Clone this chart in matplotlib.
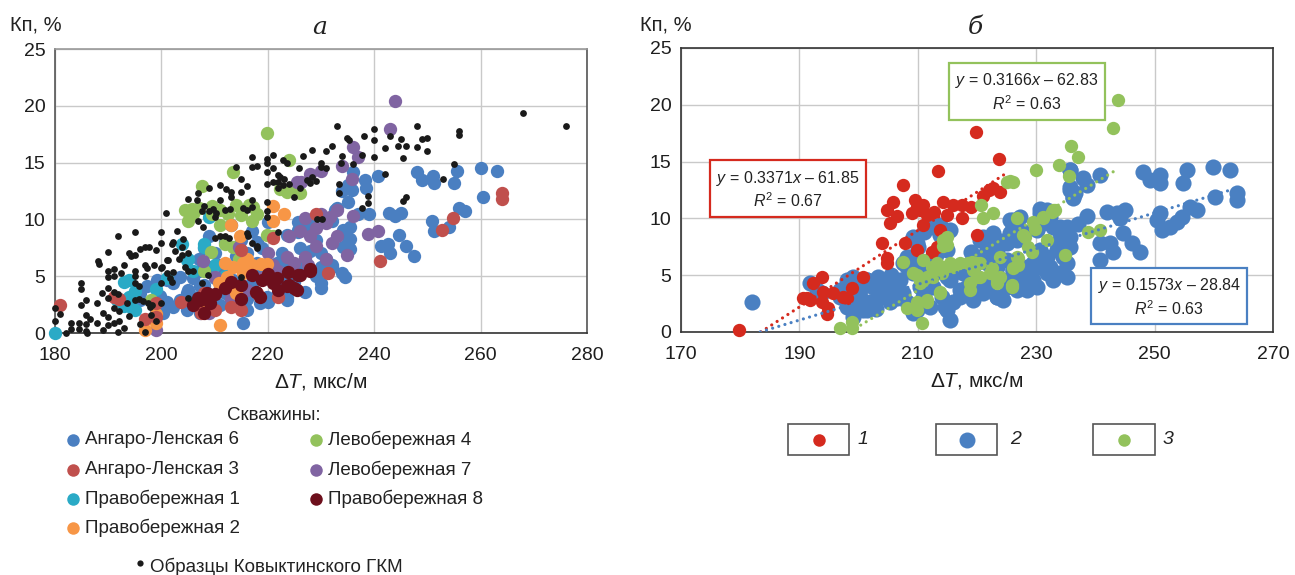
import matplotlib
matplotlib.use("Agg")
import matplotlib.pyplot as plt
from matplotlib.lines import Line2D
from matplotlib.patches import Rectangle
import numpy as np

plt.rcParams['font.family'] = ['Liberation Sans', 'DejaVu Sans']
plt.rcParams['mathtext.fontset'] = 'custom'
plt.rcParams['mathtext.rm'] = 'Liberation Sans'
plt.rcParams['mathtext.it'] = 'Liberation Sans:italic'

# ---------------- data: panel a ----------------
samples_gkm = [(180,2.2),(180,1.1),(181,1.7),(183,0.9),(183,0.35),(184.5,0.9),(184.5,0.35),(184.8,4.4),(184.8,3.9),(184.8,2.5),
    (185.8,1.6),(185.8,0.8),(185.8,0.2),(185.9,2.9),(187.9,0.9),(187.9,2.6),(188,6.3),(188.3,6.1),(188.8,3.5),(189.9,7.1),
    (190,5.5),(190,4.9),(190,4.0),(190,3.1),(190,1.4),(190,0.7),(191,5.6),(191,5.0),(191,3.6),(191,2.2),(191,0.9),(191.8,8.5),
    (191.8,0.1),(191.8,3.4),(192,1.9),(192,1.1),(194,7.0),(194.3,6.8),(195,6.9),(195,5.5),(195,5.0),(195,4.4),(195,8.9),
    (193.5,2.6),(195,2.9),(195.8,3.0),(196.5,2.8),(197.4,2.6),(198.3,2.5),(195.8,4.1),(197,6.0),(197.3,5.7),(197,5.0),
    (197,7.6),(197.7,7.6),(198.7,6.0),(197,0.1),(200,8.9),(200,7.9),(200,5.7),(200.8,10.6),(201,6.4),(201.3,6.4),(202,7.8),
    (202.2,8.0),(202.6,7.2),(203.3,6.5),(202.2,5.4),(202,4.5),(200,4.4),(201,5.3),(200.1,5.8),(201.6,4.8),(204.4,5.8),
    (205,5.5),(205.9,5.5),(203.8,7.6),(203.8,6.9),(205,7.0),(200,2.6),(199,1.1),(197.8,2.3),(205,3.1),(207.6,4.4),(208.7,5.1),
    (206.9,12.3),(206.7,11.7),(205,11.8),(207.6,10.7),(208.9,10.7),(209.7,10.9),(210.2,10.6),(210,10.2),(206.9,9.9),(207.8,9.3),
    (212.1,12.7),(213,12.4),(211,11.7),(212.9,10.9),(211.9,10.8),(211.9,8.5),(211,8.5),(210,8.4),(212.8,8.4),(214,14.6),
    (214.9,13.6),(216,12.9),(217,11.7),(215.3,11.0),(216,10.8),(217,11.1),(216,8.8),(216.2,8.5),(217,7.9),(217.9,7.7),
    (217.9,7.5),(217,15.5),(217,14.6),(219.8,15.3),(219.8,15.0),(219.8,14.2),(219.8,13.1),(219.8,11.5),(219.8,10.7),
    (219.8,10.2),(221,15.7),(221,14.5),(221.9,13.9),(223,13.6),(221.9,13.3),(222.8,13.0),(221.9,12.8),(221,13.3),(222.8,15.2),
    (223.6,15.0),(221.9,8.9),(224.9,12.0),(225.8,14.5),(226.6,15.6),(228.4,16.1),(231,16.0),(232,16.5),(228.3,13.7),
    (227.9,13.2),(227.3,13.5),(233.7,15.0),(236,14.9),(237.8,15.7),(233,18.2),(234.8,17.2),(235.2,17.0),(230,15.0),(230,14.6),
    (233.3,13.1),(233.3,12.3),(238.8,12.1),(238.8,11.4),(237.8,11.0),(229.2,10.0),(230.1,10.0),(240,18.0),(240,17.0),
    (240,15.5),(242,16.3),(243,17.3),(245,17.1),(244.4,16.5),(246,16.5),(245.5,15.4),(248,18.2),(248,16.4),(249,17.1),
    (250,17.2),(255.9,17.8),(255.9,17.4),(255,14.9),(246,12.0),(245.5,11.6),(267.9,19.4),(276,18.2),(214.9,4.9),(222.3,13.7),
    (186.5,1.2),(189,1.8),(193,0.4),(194,1.5),(196,0.8),(198,1.6),(182,0.0),(186,0.0),(189,0.3),(192.5,5.3),(193,6.0),
    (196,7.4),(199,7.3),(203,9.0),(204,8.3),(208,11.2),(209,12.8),(211,13.0),(213,12.0),(215,12.4),(218,14.7),(224,13.1),
    (226,12.8),(229,13.4),(231,14.5),(234,15.6),(238,17.3),(242,14.0),(250,16.0),(253,13.6)]

ang_len_6 = [(196,2.9),(196,3.5),(197.3,4.1),(198.8,4.1),(199.2,4.7),(199.7,3.3),(199,2.0),(200.3,1.8),(201,2.7),(202.2,2.3),
    (203.5,2.9),(204.8,3.5),(201,4.7),(202.2,4.4),(203.5,4.9),(204.8,2.0),(205,3.8),(206,4.8),(206,3.2),(207.2,4.1),
    (207.2,1.8),(208.5,2.9),(207,5.5),(207,6.5),(208,4.2),(208,7.5),(209,5.8),(209,8.5),(210,4.8),(210,7.0),(211,2.5),
    (211,4.0),(211,6.0),(212,3.5),(212,5.5),(212,8.0),(213.4,4.7),(213,2.8),(213,9.5),(214.7,3.5),(214,6.8),(215.3,0.9),
    (215,4.0),(215,5.8),(215,8.2),(216,3.0),(216,7.0),(216,2.0),(217.2,3.8),(217,4.5),(217,9.0),(217,5.2),(218.5,2.6),
    (218,6.2),(218,8.0),(219.8,3.2),(219,4.8),(219,5.3),(219,7.5),(220,5.8),(220,2.7),(220,9.8),(221,4.5),(221.7,6.2),
    (222,3.5),(222.6,7.0),(223.6,8.6),(223,4.2),(223.6,2.9),(223.6,3.1),(222.8,4.2),(224,5.0),(224,6.0),(225,4.5),
    (225.6,9.8),(225.6,8.9),(225.6,9.1),(226,5.8),(226,7.5),(227,6.5),(227,3.6),(227.5,9.5),(228.5,9.5),(228,7.2),(229,8.2),
    (229,5.0),(230,5.8),(230,4.4),(230,4.0),(230,7.0),(231,6.5),(232,6.0),(232,5.8),(232.6,10.8),(232,9.9),(234.1,9.1),
    (235,8.4),(235.4,9.3),(234.1,7.6),(234.5,4.9),(233.9,5.3),(233,11.0),(234,12.5),(235,13.0),(235,11.5),(235.5,8.3),
    (235.5,7.4),(236,14.2),(235.8,12.6),(237,10.5),(238.2,13.5),(238.4,12.8),(239,10.5),(240.7,13.8),(241.2,7.7),(242.5,7.8),
    (242.7,10.6),(243,7.0),(244,10.3),(245,10.6),(244.6,8.6),(246,7.7),(247.4,6.8),(248,14.2),(249,13.5),(250.8,9.9),
    (251.2,9.0),(251,13.8),(251.2,13.2),(254,9.3),(255,13.2),(255.5,14.3),(256,11.0),(257,10.7),(260,14.5),(260.4,12.0),
    (263,14.3)]

ang_len_3 = [(181,2.5),(191,3.2),(192,3.0),(197,1.2),(199,2.6),(199,1.4),(203.7,2.7),(207.4,1.8),(208,3.5),(210,2.0),
    (213,2.3),(215,2.0),(215,7.3),(218,3.5),(221,8.4),(222,3.2),(229,10.5),(231.3,5.3),(241,6.3),(252.8,9.1),(254.8,10.1),
    (264,12.3),(264,11.8)]

prav_1 = [(180,0.0),(191.6,2.9),(192,3.0),(193,4.5),(194,4.7),(193,2.4),(194.5,2.2),(195,2.0),(194,3.2),(195,3.7),
    (199,3.9),(201,4.8),(203.8,7.8),(205,6.5),(204.8,6.4),(208,7.8),(209,10.2),(208,7.6),(206,5.5),(212,5.0),(210,6.0)]

prav_2 = [(197,0.3),(199,0.9),(199,1.7),(211,0.7),(210.8,4.4),(212,6.2),(212.3,4.9),(213.4,5.8),(214,3.5),(215.3,6.2),
    (215.3,5.3),(218.7,6.1),(219.8,6.1),(221,11.2),(221,9.9),(223,10.5),(214.7,8.5),(209,3.0),(208,2.0),(216,6.5),
    (213,9.5),(217,6.0)]

lev_4 = [(219.8,17.6),(224,15.2),(213.4,14.2),(207.6,12.9),(204.5,10.8),(205.7,10.9),(205,9.9),(209.5,11.2),(209.5,10.5),
    (209.9,10.8),(214,11.3),(215,10.4),(216.5,11.3),(217.3,11.1),(217,9.9),(211,9.5),(209.3,7.1),(219.8,8.6),(222.3,12.7),
    (223.6,12.4),(198,2.9),(213.4,7.6),(206,10.5),(207,11.0),(211,10.8),(212.5,10.5),(218,10.5),(221,8.5),(225,12.5),
    (226,12.3),(208,5.5),(212,7.8),(214.5,6.5)]

lev_7 = [(243.9,20.4),(243,18.0),(236,16.4),(237,15.5),(233.9,14.7),(230,14.3),(235.8,13.6),(225.4,13.3),(226.2,13.3),
    (238.8,8.7),(240.8,9.0),(232,7.9),(234.8,6.9),(233,10.8),(231.6,10.2),(231,9.7),(227,10.1),(228,8.5),(229,7.7),
    (227,6.7),(225,6.2),(223.7,6.7),(220,7.0),(214.5,7.6),(207.8,6.3),(199,0.3),(209,1.8),(210,4.9),(230,10.5),(229,9.2),
    (226,9.0),(224,8.5),(221,6.0),(219,4.8),(215,4.2),(216,3.8),(213,3.0),(222,5.5),(236,10.3),(233,8.5),(228,14.0),
    (231,6.5),(227.5,6.0)]

prav_8 = [(206.9,3.1),(208,3.1),(209.1,2.6),(208.5,3.5),(207.2,2.9),(217,5.1),(218.9,4.7),(221,4.4),(221.7,4.8),(223.8,5.4),
    (224,4.2),(225.4,3.8),(226,5.1),(227.9,5.5),(217.7,3.6),(218.5,3.2),(225.6,5.1),(227.9,5.6),(225,4.0),(223.6,4.1),
    (206,2.5),(208,1.8),(212,4.0),(213,4.5),(215,4.2),(215,3.0),(210,3.4),(220,5.2),(222,3.8)]

# ---------------- data: panel б ----------------
grp1 = [(179.8,0.2),(190.6,3.0),(191.8,2.8),(194.7,1.6),(193.8,4.8),(192.3,4.3),(194,3.5),(193.8,2.6),(194.8,2.1),
    (191.3,3.0),(195.7,3.4),(197.4,3.1),(198.9,3.9),(198,3.0),(200.7,4.8),(219.8,17.6),(223.7,15.2),(213.4,14.2),
    (207.5,12.9),(205.8,11.4),(204.8,10.7),(209.9,11.0),(210.4,10.7),(209,10.5),(210.9,11.2),(212.7,10.6),(214.3,11.4),
    (216,11.2),(217.5,11.2),(215,10.3),(217.5,10.0),(205.3,9.6),(210.9,9.4),(213.8,9.0),(204,7.8),(207.8,7.8),(209.9,7.2),
    (204.8,6.5),(204.8,6.1),(213.2,7.5),(212.4,7.0),(220,8.5),(222.7,12.7),(223.9,12.3),(209.5,11.6),(206.5,10.2),
    (211.5,10.3),(219,11.0),(221,12.0),(222,12.5)]

grp2 = [(182,2.6),(191.8,4.3),(193,3.7),(193.8,3.4),(196.9,3.7),(198,4.6),(199,4.8),(198.5,3.1),(199.7,2.8),(199,1.9),
    (200.2,3.7),(201.4,4.6),(202.4,4.0),(201.9,2.6),(203.3,4.8),(203.6,3.3),(204.8,3.7),(205.3,2.6),(205.8,4.0),(207,4.6),
    (207.5,3.4),(208.2,5.7),(208.7,6.6),(209.9,7.8),(209.2,5.2),(210.4,4.0),(211,3.1),(211.6,5.2),(212,6.3),(212.6,9.2),
    (213.8,8.5),(214.9,7.2),(215.4,4.6),(215.4,1.1),(216.6,5.7),(217.1,3.7),(217.6,5.2),(214.6,2.2),(214.1,3.1),(212.6,4.0),
    (212,2.2),(199,1.3),(201.4,1.9),(209.2,1.7),(209.2,8.1),(210,7.5),(212.6,9.3),(213.8,9.4),(215.4,9.0),(208.2,6.6),
    (207.5,6.1),(209.2,5.7),(212,6.1),(211.6,5.5),(214.9,4.8),(216,5.2),(217.1,5.7),(218.3,5.5),(221,8.4),(222.7,8.1),
    (221.7,7.2),(225.6,9.9),(227.3,10.1),(226.1,9.3),(230.6,10.8),(232.3,10.5),(231.1,9.9),(232.8,9.2),(234,8.7),
    (235.2,9.2),(235.7,8.4),(233.5,7.2),(234.5,6.6),(234.5,5.2),(235.7,14.3),(235.7,12.8),(236.2,11.9),(220.5,6.6),
    (221.7,6.1),(223.4,5.7),(225.1,6.3),(226.1,5.5),(227.3,4.8),(228.4,5.5),(229.5,6.1),(230.6,5.7),(231.8,5.2),(232.8,4.6),
    (229.5,4.3),(228.4,3.7),(226.1,4.3),(224.4,4.6),(223.4,3.1),(221.7,3.7),(220,4.3),(218.3,4.0),(217.1,3.1),(216,2.6),
    (214.9,1.9),(209.9,1.9),(210.9,3.1),(208.2,2.6),(203.6,3.1),(204.8,4.3),(201.4,4.6),(202.4,2.6),(200.7,1.9),(200.2,3.1),
    (196.9,3.1),(198,2.2),(263.9,12.2),(263.9,11.6),(260.2,11.9),(256,11.0),(257.2,10.7),(254.6,10.1),(253.8,9.7),
    (252.6,9.2),(251.2,9.0),(250.4,9.9),(250.9,10.5),(242,10.6),(243.6,10.5),(245,10.7),(244.2,10.0),(244.7,8.7),
    (246.2,7.8),(247.5,7.0),(240.8,7.8),(242.5,7.8),(243,7.0),(240.8,6.3),(234,9.2),(235.2,9.0),(234.4,8.4),(233.5,7.8),
    (234,7.2),(235.7,7.5),(235.2,6.1),(234,5.2),(235.2,4.8),(230.6,10.5),(231.8,10.7),(232.3,10.1),(231.1,9.6),(230.1,9.0),
    (226.1,9.9),(226.8,9.3),(225.6,8.7),(226.8,8.1),(225.1,7.8),(222.7,8.7),(222.2,7.8),(223.4,7.0),(220.5,8.1),
    (230.6,7.2),(230.1,6.3),(231.8,6.6),(231.1,5.7),(232.3,5.7),(228.4,5.7),(227.3,5.2),(226.1,5.5),(225.6,4.6),(226.8,3.7),
    (225.1,4.0),(223.4,3.1),(222.2,4.6),(220.5,4.0),(219.3,5.2),(218.3,5.7),(217.6,3.7),(219.3,2.8),(221,3.4),(224.4,2.8),
    (229.5,4.6),(230.1,4.0),(255.5,14.3),(259.9,14.5),(262.7,14.3),(250.9,13.8),(250.9,13.1),(248,14.1),(249.2,13.4),
    (254.8,13.1),(235.7,14.3),(237.9,13.6),(240.8,13.8),(238.6,12.9),(235.7,12.5),(236.2,11.8),(236.6,12.2),(209.2,8.4),
    (205.5,5.0),(206.5,3.0),(203,2.0),(211,8.8),(213,6.8),(219,7.0),(224,8.0),(228,8.8),(237,9.5),(238.5,10.2)]

grp3 = [(243.8,20.4),(243,18.0),(235.9,16.4),(237.1,15.4),(230,14.3),(233.9,14.7),(225,13.2),(226,13.2),(235.5,13.7),
    (225.6,13.3),(220.7,11.2),(221,10.0),(226.8,10.0),(229.5,9.7),(231.1,10.1),(232.8,10.7),(229.8,9.1),(231.8,8.1),
    (228.1,8.4),(228.6,7.5),(229.3,7.0),(234.9,6.8),(223.9,6.6),(226.8,6.6),(226.9,5.9),(214.9,8.4),(214.3,7.6),(207.5,6.2),
    (210.9,6.3),(212.4,5.7),(213.2,6.1),(214.3,5.7),(215.4,6.1),(214.1,5.2),(209.9,5.0),(210.4,4.3),(211.6,4.8),(213.8,3.5),
    (209.9,2.6),(211.6,2.6),(210.7,0.8),(219.2,6.2),(220.5,6.1),(220,4.8),(218.8,4.3),(222.2,5.2),(223.9,4.8),(223.4,4.3),
    (225.9,4.1),(196.9,0.35),(198.9,0.9),(198.9,0.35),(222.7,10.5),(227.8,8.5),(231.1,10.0),(232.7,10.6),(233.2,10.7),
    (238.8,8.8),(240.8,9.0),(222.5,5.6),(220.5,4.8),(219.3,5.5),(223.4,4.6),(226.1,5.6),(227,6.5),(225.9,4.0),(218.8,3.7),
    (220,6.1),(208.2,2.1),(209.9,1.9),(209.2,5.2),(211.6,2.8),(210.9,4.6),(212.6,4.8),(213.8,3.4),(214.3,8.1),(214.9,7.7),
    (216,5.7),(217.1,6.1),(218.5,6.1)]

# trend-line coefficients (as printed in the chart) and their x-ranges
trend1 = (0.3371, -61.85, 183.5, 224.5)
trend2 = (0.1573, -28.84, 183.4, 263.5)
trend3 = (0.3166, -62.83, 198.5, 243.0)

legend_left = ["Ангаро-Ленская 6", "Ангаро-Ленская 3", "Правобережная 1", "Правобережная 2",
               "Левобережная 4", "Левобережная 7", "Правобережная 8"]
c_blue, c_red3, c_teal, c_orange = '#4a7fc1', '#c0504d', '#2aaac6', '#f79646'
c_green, c_purple, c_dred = '#93c25c', '#8064a2', '#6d0f1c'
r_red, r_blue, r_green = '#d52a1e', '#4a80c2', '#93c25c'

W, H = 1295, 575
fig = plt.figure(figsize=(W/100, H/100), dpi=100)

def ax_rect(x0, y0, x1, y1):
    return [x0/W, 1 - y1/H, (x1-x0)/W, (y1-y0)/H]

def xy(pts):
    a = np.array(pts, dtype=float)
    return a[:, 0], a[:, 1]

def style_axes(ax, xlim, xticks, spine_colors):
    ax.set_xlim(*xlim)
    ax.set_ylim(0, 25)
    ax.set_xticks(xticks)
    ax.set_yticks([0, 5, 10, 15, 20, 25])
    ax.grid(True, color='#c9c9c9', lw=1.0, zorder=0)
    ax.set_axisbelow(True)
    ax.tick_params(length=0, labelsize=14, colors='#1e1e1e')
    ax.tick_params(axis='x', pad=10)
    ax.tick_params(axis='y', pad=7)
    for k, c in spine_colors.items():
        ax.spines[k].set_color(c)
        ax.spines[k].set_linewidth(1.2)
    ax.set_xlabel('Δ$T$, мкс/м', fontsize=15, labelpad=5, color='#1e1e1e')

# ---- panel a ----
axa = fig.add_axes(ax_rect(55, 49, 587, 333))
style_axes(axa, (180, 280), [180, 200, 220, 240, 260, 280],
           {'left': '#555555', 'bottom': '#333333', 'top': '#999999', 'right': '#555555'})
s_big = 92
for pts, c in [(ang_len_6, c_blue), (prav_1, c_teal), (lev_4, c_green), (lev_7, c_purple),
               (prav_2, c_orange), (ang_len_3, c_red3), (prav_8, c_dred)]:
    x, y = xy(pts)
    axa.scatter(x, y, s=s_big, color=c, linewidths=0, zorder=3, clip_on=False)
x, y = xy(samples_gkm)
axa.scatter(x, y, s=24, color='#1a1a1a', linewidths=0, zorder=5, clip_on=False)

# ---- panel б ----
axb = fig.add_axes(ax_rect(681, 48, 1273, 332))
style_axes(axb, (170, 270), [170, 190, 210, 230, 250, 270],
           {'left': '#333333', 'bottom': '#333333', 'top': '#333333', 'right': '#333333'})
x, y = xy(grp2)
axb.scatter(x, y, s=135, color=r_blue, linewidths=0, zorder=3, clip_on=False)
x, y = xy(grp1)
axb.scatter(x, y, s=92, color=r_red, linewidths=0, zorder=4, clip_on=False)
x, y = xy(grp3)
axb.scatter(x, y, s=92, color=r_green, linewidths=0, zorder=4, clip_on=False)
for (k, b, x0, x1), c in [(trend1, r_red), (trend2, r_blue), (trend3, r_green)]:
    xs = np.array([x0, x1])
    axb.plot(xs, k*xs + b, ls=(0, (0.01, 2.0)), lw=2.3, color=c, zorder=6,
             dash_capstyle='round', solid_capstyle='round')

def eq_box(ax, xc, yc, k, b, r2, ec):
    txt = f'$y$ = {k:.4f}$x$ – {abs(b):.2f}\n$R^2$ = {r2:.2f}'
    ax.text(xc, yc, txt, ha='center', va='center', fontsize=11.5, color='#222222',
            linespacing=1.25, zorder=8,
            bbox=dict(boxstyle='square,pad=0.4', fc='white', ec=ec, lw=1.6))

eq_box(axb, 188.0, 12.55, trend1[0], trend1[1], 0.67, r_red)
eq_box(axb, 228.4, 21.1, trend3[0], trend3[1], 0.63, r_green)
eq_box(axb, 252.5, 3.1, trend2[0], trend2[1], 0.63, r_blue)

# titles and axis names
fig.text(320/W, 1 - 28/H, 'а', fontsize=18, style='italic', family='DejaVu Serif',
         ha='center', va='center', color='#222222')
fig.text(975/W, 1 - 28/H, 'б', fontsize=18, style='italic', family='DejaVu Serif',
         ha='center', va='center', color='#222222')
fig.text(10/W, 1 - 25/H, 'Кп, %', fontsize=14.5, ha='left', va='center', color='#222222')
fig.text(640/W, 1 - 25/H, 'Кп, %', fontsize=14.5, ha='left', va='center', color='#222222')

# left legend
fig.text(274/W, 1 - 415/H, 'Скважины:', fontsize=13.5, ha='center', va='center', color='#222222')
leg_cols = [c_blue, c_red3, c_teal, c_orange, c_green, c_purple, c_dred]
pos = [(73, 85, 440), (73, 85, 470), (73, 85, 499), (73, 85, 528),
       (316, 328, 440), (316, 328, 470), (316, 328, 499)]
for lab, c, (mx, tx, yy) in zip(legend_left, leg_cols, pos):
    fig.add_artist(Line2D([mx/W], [1 - yy/H], marker='o', ms=9, mew=0, color=c,
                          transform=fig.transFigure))
    fig.text(tx/W, 1 - yy/H, lab, fontsize=13.5, ha='left', va='center', color='#222222')
fig.add_artist(Line2D([140/W], [1 - 563/H], marker='o', ms=4.5, mew=0, color='#1a1a1a',
                      transform=fig.transFigure))
fig.text(150/W, 1 - 567/H, 'Образцы Ковыктинского ГКМ', fontsize=13.5, ha='left', va='center',
         color='#222222')

# right legend
for (bx0, bx1, lx, lab), c, ms in zip([(788, 849, 857, '1'), (936, 997, 1010, '2'), (1093, 1155, 1163, '3')],
                                      [r_red, r_blue, r_green], [9, 11.5, 9]):
    fig.add_artist(Rectangle((bx0/W, 1 - 455/H), (bx1-bx0)/W, 31/H, transform=fig.transFigure,
                             fill=False, ec='#555555', lw=1.2))
    fig.add_artist(Line2D([(bx0+bx1)/2/W], [1 - 440/H], marker='o', ms=ms, mew=0, color=c,
                          transform=fig.transFigure))
    fig.text(lx/W, 1 - 440/H, lab, fontsize=14, style='italic', ha='left', va='center', color='#222222')

fig.savefig('out.png', dpi=100, facecolor='white')
